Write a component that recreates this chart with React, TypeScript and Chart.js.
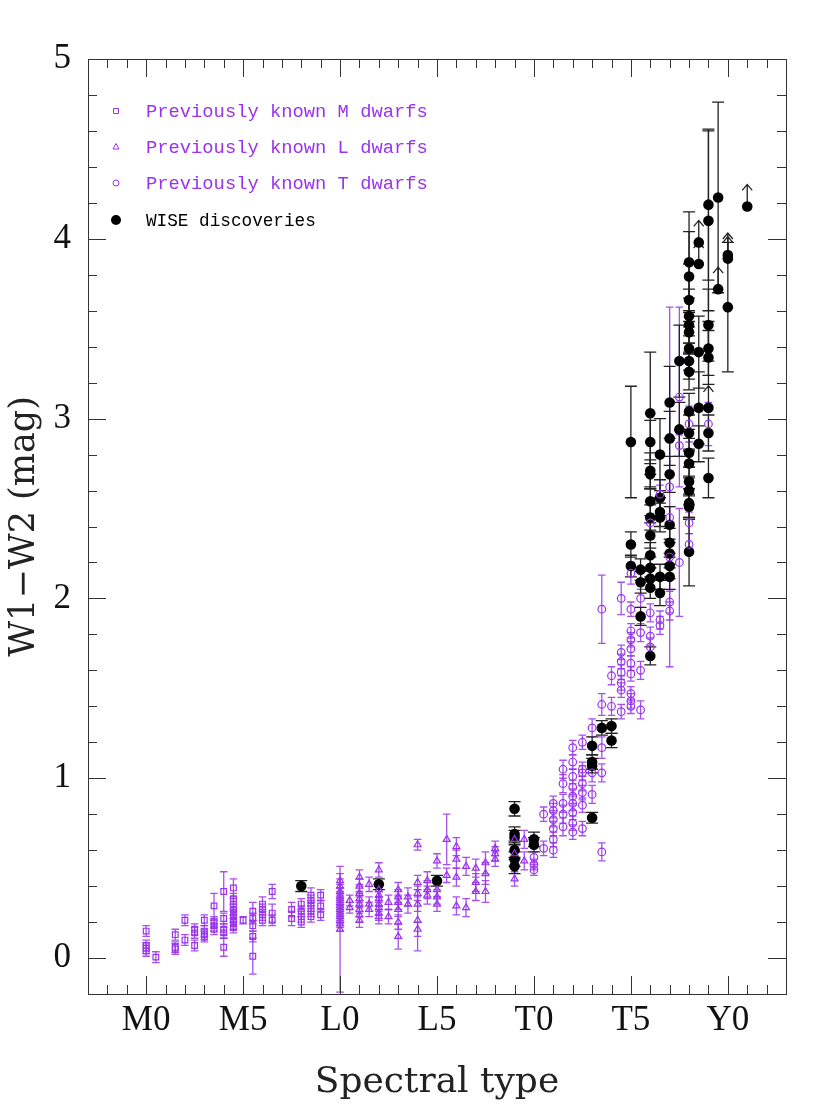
import React, { useEffect, useRef } from 'react';
import { Chart, registerables } from 'chart.js';

Chart.register(...registerables);

const PURPLE = '#9a33ee';
const PURPLE_BAR = 'rgba(150,50,235,0.85)';

// Previously known M dwarfs (spectral type index: M0 = 0, L0 = 10, T0 = 20, Y0 = 30)
const mX = [0, 0, 0, 0, 0.5, 1.5, 1.5, 1.5, 2, 2, 2.5, 2.5, 2.5, 3, 3, 3, 3, 3.5, 3.5, 3.5, 3.5, 4, 4, 4, 4, 4,
  4.5, 4.5, 4.5, 4.5, 4.5, 4.5, 4.5, 4.5, 4.5, 5, 5.5, 5.5, 5.5, 5.5, 5.5, 6, 6, 6, 6, 6.5, 6.5, 6.5, 7.5, 7.5,
  8, 8, 8, 8, 8.5, 8.5, 8.5, 8.5, 8.5, 9, 9, 9];
const mY = [0.15, 0.07, 0.055, 0.04, 0.005, 0.13, 0.06, 0.05, 0.21, 0.10, 0.16, 0.14, 0.07, 0.21, 0.15, 0.13, 0.12,
  0.29, 0.20, 0.18, 0.16, 0.37, 0.22, 0.16, 0.14, 0.06, 0.39, 0.33, 0.30, 0.27, 0.25, 0.23, 0.21, 0.19, 0.17, 0.21,
  0.26, 0.22, 0.18, 0.12, 0.01, 0.30, 0.27, 0.24, 0.21, 0.37, 0.25, 0.21, 0.27, 0.22, 0.30, 0.26, 0.23, 0.20,
  0.35, 0.32, 0.29, 0.26, 0.23, 0.35, 0.29, 0.24];
const mErr = [0.03, 0.03, 0.03, 0.03, 0.03, 0.03, 0.03, 0.03, 0.03, 0.03, 0.03, 0.03, 0.03, 0.03, 0.03, 0.03, 0.03,
  0.07, 0.03, 0.03, 0.03, 0.11, 0.03, 0.03, 0.03, 0.05, 0.05, 0.03, 0.03, 0.03, 0.03, 0.03, 0.03, 0.03, 0.03, 0.02,
  0.05, 0.03, 0.03, 0.03, 0.10, 0.04, 0.03, 0.03, 0.03, 0.04, 0.05, 0.03, 0.04, 0.04, 0.03, 0.03, 0.03, 0.03,
  0.04, 0.03, 0.03, 0.03, 0.03, 0.03, 0.03, 0.03];

// Previously known L dwarfs
const lX = [10, 10, 10, 10, 10, 10, 10, 10, 10, 10, 10, 10, 10, 10.5, 10.5, 11, 11, 11, 11, 11, 11, 11, 11,
  11.5, 11.5, 11.5, 12, 12, 12, 12, 12, 12, 12, 12, 12.5, 12.5, 13, 13, 13, 13, 13, 13, 13.5, 13.5,
  14, 14, 14, 14, 14, 14, 14.5, 14.5, 14.5, 15, 15, 15, 15, 15.5, 15.5, 16, 16, 16, 16, 16.5, 16.5,
  17, 17, 17, 17.5, 17.5, 17.5, 18, 18, 18, 19, 19, 19, 19.5, 19.5];
const lY = [0.43, 0.40, 0.37, 0.35, 0.33, 0.31, 0.29, 0.27, 0.25, 0.23, 0.21, 0.19, 0.16, 0.32, 0.28,
  0.45, 0.40, 0.36, 0.33, 0.30, 0.27, 0.24, 0.21, 0.41, 0.30, 0.27, 0.49, 0.38, 0.35, 0.33, 0.30, 0.28, 0.25, 0.23,
  0.31, 0.23, 0.38, 0.34, 0.31, 0.27, 0.20, 0.12, 0.34, 0.30, 0.63, 0.42, 0.36, 0.30, 0.21, 0.16, 0.43, 0.38, 0.35,
  0.54, 0.38, 0.34, 0.30, 0.66, 0.46, 0.62, 0.55, 0.45, 0.29, 0.51, 0.28, 0.50, 0.42, 0.37, 0.53, 0.47, 0.37,
  0.61, 0.58, 0.55, 0.66, 0.58, 0.44, 0.66, 0.54];
const lErr = [0.04, 0.04, 0.04, 0.04, 0.04, 0.04, 0.04, 0.04, 0.04, 0.04, 0.04, 0.04, 0.35, 0.03, 0.03,
  0.04, 0.04, 0.04, 0.04, 0.04, 0.04, 0.04, 0.04, 0.04, 0.04, 0.04, 0.04, 0.04, 0.04, 0.04, 0.04, 0.04, 0.04, 0.04,
  0.04, 0.04, 0.04, 0.04, 0.04, 0.04, 0.04, 0.07, 0.05, 0.05, 0.03, 0.04, 0.04, 0.04, 0.17, 0.04, 0.05, 0.05, 0.05,
  0.04, 0.04, 0.04, 0.04, 0.14, 0.04, 0.05, 0.05, 0.05, 0.05, 0.05, 0.05, 0.05, 0.05, 0.05, 0.06, 0.06, 0.06,
  0.04, 0.04, 0.04, 0.04, 0.04, 0.04, 0.05, 0.05];

// Previously known T dwarfs
const tX = [20, 20, 20, 20.5, 20.5, 21, 21, 21, 21, 21, 21, 21.5, 21.5, 21.5, 21.5, 21.5,
  22, 22, 22, 22, 22, 22, 22, 22, 22, 22.5, 22.5, 22.5, 22.5, 22.5, 22.5, 22.5, 23, 23, 23,
  23.5, 23.5, 23.5, 23.5, 23.5, 24, 24, 24.5, 24.5, 24.5, 24.5, 24.5, 24.5, 24.5,
  25, 25, 25, 25, 25, 25, 25, 25, 25, 25, 25.5, 25.5, 25.5, 25.5, 26, 26, 26, 26, 26.5, 26.5, 26.5,
  27, 27, 27, 27, 27, 27.5, 27.5, 27.5, 28, 28, 28, 29];
const tY = [0.56, 0.52, 0.49, 0.80, 0.61, 0.86, 0.82, 0.77, 0.72, 0.66, 0.60, 1.05, 0.97, 0.86, 0.80, 0.73,
  1.17, 1.09, 1.01, 0.95, 0.90, 0.86, 0.81, 0.75, 0.70, 1.20, 1.05, 1.03, 0.97, 0.92, 0.85, 0.72, 1.28, 1.03, 0.91,
  1.94, 1.41, 1.17, 1.03, 0.59, 1.57, 1.40, 2.00, 1.70, 1.65, 1.59, 1.53, 1.49, 1.37,
  2.14, 1.94, 1.82, 1.77, 1.72, 1.64, 1.58, 1.47, 1.43, 1.40, 2.00, 1.81, 1.60, 1.38, 2.42, 1.92, 1.79, 1.73,
  2.58, 1.88, 1.85, 2.62, 2.45, 2.23, 1.98, 1.93, 3.12, 2.85, 2.20, 2.97, 2.42, 2.30, 2.97];
const tErr = [0.03, 0.03, 0.03, 0.04, 0.04, 0.04, 0.04, 0.04, 0.04, 0.04, 0.04, 0.05, 0.05, 0.05, 0.05, 0.05,
  0.04, 0.04, 0.04, 0.04, 0.04, 0.04, 0.04, 0.04, 0.04, 0.04, 0.04, 0.04, 0.04, 0.04, 0.04, 0.04, 0.05, 0.05, 0.05,
  0.19, 0.06, 0.06, 0.05, 0.05, 0.05, 0.05, 0.09, 0.04, 0.04, 0.04, 0.04, 0.04, 0.04,
  0.06, 0.04, 0.04, 0.04, 0.04, 0.04, 0.04, 0.04, 0.04, 0.04, 0.05, 0.05, 0.05, 0.05, 0.05, 0.05, 0.05, 0.05,
  0.05, 0.05, 0.05, 1.00, 0.06, 0.06, 0.06, 0.05, 0.50, 0.06, 0.30, 0.10, 0.06, 0.06, 0.12];

// WISE discoveries (lower limits flagged with 1)
const wX = [8, 12, 15, 19, 19, 19, 19, 19, 19, 20, 20, 23, 23, 23, 23, 23.5, 24, 24, 25, 25, 25, 25.5, 25.5, 25.5,
  26, 26, 26, 26, 26, 26, 26, 26, 26, 26, 26, 26, 26.5, 26.5, 26.5, 26.5, 26.5, 26.5,
  27, 27, 27, 27, 27, 27, 27, 27, 27.5, 27.5,
  28, 28, 28, 28, 28, 28, 28, 28, 28, 28, 28, 28, 28, 28, 28, 28, 28, 28,
  28.5, 28.5, 28.5, 28.5, 28.5, 29, 29, 29, 29, 29, 29, 29, 29, 29.5, 29.5, 30, 30, 30, 31];
const wY = [0.40, 0.41, 0.43, 0.83, 0.69, 0.67, 0.60, 0.55, 0.51, 0.66, 0.63, 1.18, 1.09, 1.07, 0.78, 1.28, 1.29, 1.21,
  2.87, 2.30, 2.18, 2.16, 2.09, 1.90,
  3.03, 2.87, 2.71, 2.69, 2.54, 2.45, 2.35, 2.24, 2.17, 2.11, 2.06, 1.68, 2.80, 2.56, 2.48, 2.45, 2.12, 2.03,
  3.09, 2.89, 2.69, 2.41, 2.31, 2.25, 2.18, 2.12, 3.32, 2.94,
  3.87, 3.79, 3.66, 3.57, 3.52, 3.48, 3.39, 3.32, 3.26, 3.04, 2.92, 2.81, 2.75, 2.65, 2.60, 2.53, 2.51, 2.26,
  3.98, 3.86, 3.37, 3.06, 2.86, 4.19, 4.10, 3.52, 3.39, 3.34, 3.06, 2.92, 2.67, 4.23, 3.72, 3.91, 3.89, 3.62, 4.18];
const wErr = [0.03, 0.03, 0.03, 0.04, 0.04, 0.04, 0.04, 0.04, 0.04, 0.04, 0.04, 0.05, 0.04, 0.04, 0.03, 0.04, 0.04, 0.04,
  0.31, 0.07, 0.06, 0.06, 0.06, 0.05,
  0.34, 0.12, 0.10, 0.08, 0.08, 0.07, 0.07, 0.07, 0.06, 0.06, 0.06, 0.05, 0.20, 0.10, 0.08, 0.08, 0.07, 0.07,
  0.20, 0.15, 0.10, 0.10, 0.08, 0.08, 0.07, 0.07, 0.20, 0.15,
  0.28, 0.25, 0.20, 0.15, 0.15, 0.12, 0.12, 0.10, 0.10, 0.10, 0.10, 0.08, 0.08, 0.08, 0.08, 0.08, 0.07, 0.19,
  0, 0, 0.20, 0.20, 0.10, 0.42, 0.50, 0.20, 0.15, 0.15, 0, 0.10, 0.11, 0.53, 0, 0, 0, 0.36, 0];
const wLim = [0, 0, 0, 0, 0, 0, 0, 0, 0, 0, 0, 0, 0, 0, 0, 0, 0, 0,
  0, 0, 0, 0, 0, 0,
  0, 0, 0, 0, 0, 0, 0, 0, 0, 0, 0, 0, 0, 0, 0, 0, 0, 0,
  0, 0, 0, 0, 0, 0, 0, 0, 0, 0,
  0, 0, 0, 0, 0, 0, 0, 0, 0, 0, 0, 0, 0, 0, 0, 0, 0, 0,
  1, 1, 0, 0, 0, 0, 0, 0, 0, 0, 1, 0, 0, 0, 1, 1, 1, 0, 1];

// Axis tick labels
const xTickValues = [0, 5, 10, 15, 20, 25, 30];
const xTickLabels = ['M0', 'M5', 'L0', 'L5', 'T0', 'T5', 'Y0'];

const legendItems = [
  { label: 'Previously known M dwarfs', shape: 'rect', color: PURPLE, size: 18.8 },
  { label: 'Previously known L dwarfs', shape: 'triangle', color: PURPLE, size: 18.8 },
  { label: 'Previously known T dwarfs', shape: 'circle', color: PURPLE, size: 18.8 },
  { label: 'WISE discoveries', shape: 'dot', color: '#000', size: 17.7 },
];

const toPts = (xs: number[], ys: number[]) => xs.map((x, i) => ({ x, y: ys[i] }));

const errorBarPlugin = {
  id: 'errorBars',
  beforeDatasetsDraw(chart: any) {
    const { ctx, chartArea, scales } = chart;
    const ys = scales.y;
    ctx.save();
    ctx.beginPath();
    ctx.rect(chartArea.left, chartArea.top, chartArea.right - chartArea.left, chartArea.bottom - chartArea.top);
    ctx.clip();
    chart.data.datasets.forEach((ds: any, di: number) => {
      const meta = chart.getDatasetMeta(di);
      if (!ds.errors) return;
      ctx.strokeStyle = ds.errColor;
      ctx.lineWidth = ds.errWidth;
      const cap = ds.capHalf;
      meta.data.forEach((pt: any, i: number) => {
        const v = ds.data[i].y;
        const e = ds.errors[i];
        const x = pt.x;
        if (e > 0) {
          const y1 = ys.getPixelForValue(v - e);
          const y2 = ys.getPixelForValue(v + e);
          ctx.beginPath();
          ctx.moveTo(x, y1); ctx.lineTo(x, y2);
          ctx.moveTo(x - cap, y1); ctx.lineTo(x + cap, y1);
          ctx.moveTo(x - cap, y2); ctx.lineTo(x + cap, y2);
          ctx.stroke();
        }
        if (ds.limits && ds.limits[i]) {
          const top = pt.y - 22;
          ctx.beginPath();
          ctx.moveTo(x, pt.y); ctx.lineTo(x, top);
          ctx.moveTo(x - 5, top + 6); ctx.lineTo(x, top); ctx.lineTo(x + 5, top + 6);
          ctx.stroke();
        }
      });
    });
    ctx.restore();
  },
};

const framePlugin = {
  id: 'frameTicks',
  afterDraw(chart: any) {
    const { ctx, chartArea: a, scales } = chart;
    ctx.save();
    ctx.strokeStyle = '#333';
    ctx.lineWidth = 1;
    ctx.strokeRect(a.left + 0.5, a.top + 0.5, a.right - a.left, a.bottom - a.top);
    ctx.beginPath();
    scales.x.ticks.forEach((t: any) => {
      const v = t.value;
      const px = Math.round(scales.x.getPixelForValue(v)) + 0.5;
      if (px <= a.left + 1 || px >= a.right - 1) return;
      const len = Math.abs(v % 5) < 1e-6 ? 18 : 9;
      ctx.moveTo(px, a.bottom); ctx.lineTo(px, a.bottom - len);
      ctx.moveTo(px, a.top); ctx.lineTo(px, a.top + len);
    });
    scales.y.ticks.forEach((t: any) => {
      const v = t.value;
      const py = Math.round(scales.y.getPixelForValue(v)) + 0.5;
      if (py <= a.top + 1 || py >= a.bottom - 1) return;
      const len = Math.abs(v - Math.round(v)) < 1e-6 ? 18 : 9;
      ctx.moveTo(a.left, py); ctx.lineTo(a.left + len, py);
      ctx.moveTo(a.right, py); ctx.lineTo(a.right - len, py);
    });
    ctx.stroke();

    // legend
    const mx = a.left + 28;
    const tx = a.left + 58;
    const rows = [52, 88, 124, 161];
    legendItems.forEach((it, i) => {
      const y = a.top + rows[i];
      ctx.strokeStyle = it.color;
      ctx.fillStyle = it.color;
      ctx.lineWidth = 1;
      ctx.beginPath();
      if (it.shape === 'rect') {
        ctx.rect(mx - 2.5, y - 2.5, 5, 5);
        ctx.stroke();
      } else if (it.shape === 'triangle') {
        ctx.moveTo(mx, y - 3.5); ctx.lineTo(mx + 3, y + 2); ctx.lineTo(mx - 3, y + 2); ctx.closePath();
        ctx.stroke();
      } else if (it.shape === 'circle') {
        ctx.arc(mx, y, 3, 0, Math.PI * 2);
        ctx.stroke();
      } else {
        ctx.arc(mx, y, 5, 0, Math.PI * 2);
        ctx.fill();
      }
      ctx.font = `${it.size}px "Liberation Mono", monospace`;
      ctx.textAlign = 'left';
      ctx.textBaseline = 'middle';
      ctx.fillText(it.label, tx, y + 1);
    });
    ctx.restore();
  },
};

export default function App() {
  const ref = useRef<HTMLCanvasElement | null>(null);
  useEffect(() => {
    document.body.style.margin = '0';
    document.body.style.overflow = 'hidden';
    if (!ref.current) return;
    const chart = new Chart(ref.current, {
      type: 'scatter',
      data: {
        datasets: [
          {
            label: 'M', data: toPts(mX, mY), pointStyle: 'rect', pointRadius: 4, borderColor: PURPLE,
            backgroundColor: 'rgba(0,0,0,0)', borderWidth: 1.2,
            errors: mErr, errColor: PURPLE_BAR, errWidth: 1.3, capHalf: 3.8,
          } as any,
          {
            label: 'L', data: toPts(lX, lY), pointStyle: 'triangle', pointRadius: 4, borderColor: PURPLE,
            backgroundColor: 'rgba(0,0,0,0)', borderWidth: 1.2,
            errors: lErr, errColor: PURPLE_BAR, errWidth: 1.3, capHalf: 3.8,
          } as any,
          {
            label: 'T', data: toPts(tX, tY), pointStyle: 'circle', pointRadius: 3.8, borderColor: PURPLE,
            backgroundColor: 'rgba(0,0,0,0)', borderWidth: 1.2,
            errors: tErr, errColor: PURPLE_BAR, errWidth: 1.3, capHalf: 3.8,
          } as any,
          {
            label: 'WISE', data: toPts(wX, wY), pointStyle: 'circle', pointRadius: 5.3, borderColor: '#000',
            backgroundColor: '#000', borderWidth: 0,
            errors: wErr, limits: wLim, errColor: '#222', errWidth: 1.3, capHalf: 6,
          } as any,
        ],
      },
      options: {
        animation: false,
        responsive: false,
        devicePixelRatio: 1,
        layout: { padding: { left: 0, right: 44, top: 59, bottom: 0 } },
        plugins: { legend: { display: false }, tooltip: { enabled: false } },
        scales: {
          x: {
            type: 'linear', min: -3, max: 33,
            afterFit: (s: any) => { s.height = 112; },
            grid: { display: false, drawTicks: false },
            border: { display: false },
            ticks: {
              stepSize: 1, autoSkip: false, maxRotation: 0, padding: 6, color: '#111',
              font: { family: '"Liberation Serif", serif', size: 35 },
              callback: (v: any) => {
                const idx = xTickValues.indexOf(Math.round(Number(v)));
                return idx >= 0 && Math.abs(Number(v) - Math.round(Number(v))) < 1e-6 ? xTickLabels[idx] : '';
              },
            },
            title: {
              display: true, text: 'Spectral type', color: '#222',
              font: { family: '"DejaVu Serif", serif', size: 36 }, padding: { top: 0, bottom: 2 },
            },
          },
          y: {
            type: 'linear', min: -0.2, max: 5,
            afterFit: (s: any) => { s.width = 88; },
            grid: { display: false, drawTicks: false },
            border: { display: false },
            ticks: {
              stepSize: 0.2, autoSkip: false, padding: 17, color: '#111',
              font: { family: '"Liberation Serif", serif', size: 35 },
              callback: (v: any) => {
                const n = Number(v);
                return Math.abs(n - Math.round(n)) < 1e-6 && Math.round(n) >= 0 ? String(Math.round(n)) : '';
              },
            },
            title: {
              display: true, text: 'W1\u2212W2 (mag)', color: '#222',
              font: { family: '"DejaVu Serif", serif', size: 35 }, padding: { top: 4, bottom: 0 },
            },
          },
        },
      },
      plugins: [errorBarPlugin, framePlugin],
    } as any);
    return () => chart.destroy();
  }, []);
  return (
    <div style={{ position: 'absolute', left: 0, top: 0, width: 830, height: 1106, background: '#fff' }}>
      <canvas ref={ref} width={830} height={1106} style={{ width: 830, height: 1106, display: 'block' }} />
    </div>
  );
}
